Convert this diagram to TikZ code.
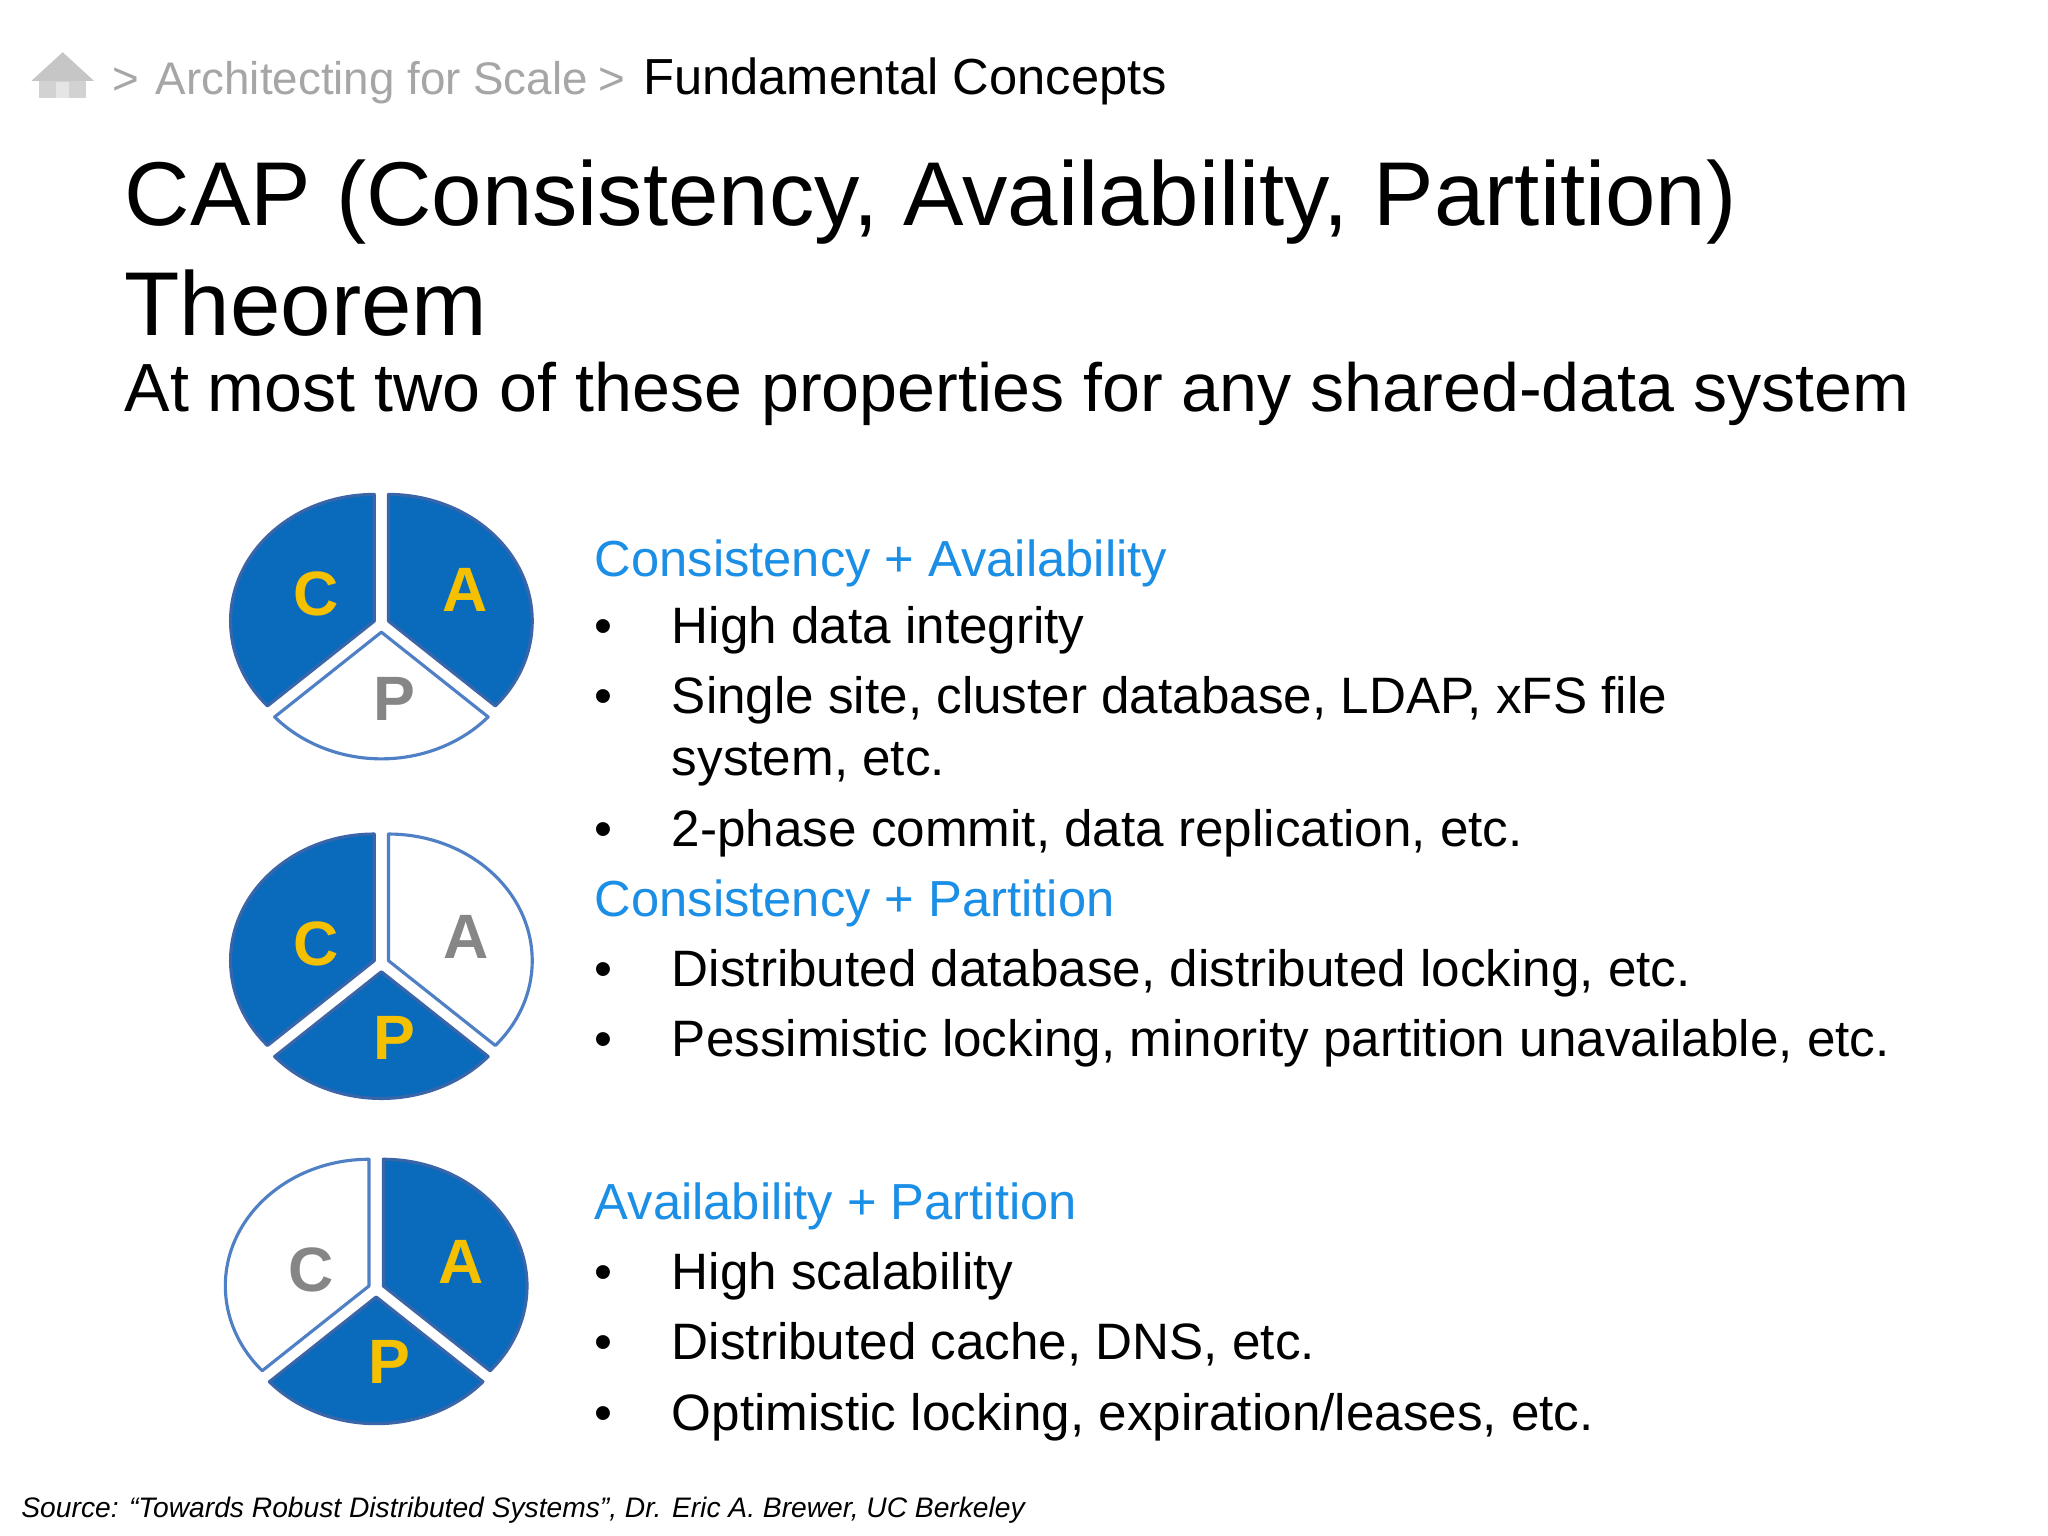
\documentclass[tikz,border=0pt]{standalone}
\usepackage{fontspec}
\setmainfont{Liberation Sans}
\definecolor{pieblue}{HTML}{0A6BBD}
\definecolor{pieedge}{HTML}{3A65A8}
\definecolor{wedge}{HTML}{4F7FC4}
\definecolor{lettery}{HTML}{F5C000}
\definecolor{headblue}{HTML}{1B8EE6}
\definecolor{crumb}{HTML}{A6A6A6}
\tikzset{
  txt/.style={anchor=base west, inner sep=0pt, font=\fontsize{19.6}{24}\selectfont},
  head/.style={txt, text=headblue, font=\fontsize{19.4}{24}\selectfont},
  bul/.style={txt},
  full/.style={fill=pieblue, draw=pieedge, line width=1.2pt, line join=round},
  empty/.style={fill=white, draw=wedge, line width=1.2pt, line join=round},
  letfull/.style={text=lettery, font=\bfseries\fontsize{24}{24}\selectfont, inner sep=0pt},
  letempty/.style={text=gray!95, font=\bfseries\fontsize{24}{24}\selectfont, inner sep=0pt},
}
% center x, center y, start, end, style
\newcommand\capsec[5]{%
  \path[#5] ([shift={({(#3+#4)/2}:6)}]#1,#2) -- ++(#3:55pt and 48.5pt)
     arc[start angle=#3, end angle=#4, x radius=55pt, y radius=48.5pt] -- cycle;}
\begin{document}
\begin{tikzpicture}[x=0.5pt,y=0.5pt]
\useasboundingbox[fill=white] (0,0) rectangle (1568,-1176);
% breadcrumb
\fill[gray!35] (30,-62) -- (30,-75) -- (66,-75) -- (66,-62) -- cycle;
\fill[gray!45] (24,-62) -- (48,-40) -- (72,-62) -- cycle;
\fill[gray!20] (43,-75) rectangle (53,-63);
\node[txt, text=crumb, font=\fontsize{17.5}{20}\selectfont] (bc0) at (86,-72) {>};
\node[txt, text=crumb, font=\fontsize{17.5}{20}\selectfont] (bc1) at (119,-72) {Architecting for Scale};
\node[txt, text=crumb, font=\fontsize{17.5}{20}\selectfont] (bc2) at (458,-72) {>};
\node[txt, font=\fontsize{19.4}{20}\selectfont] (bc3) at (492,-72) {Fundamental Concepts};
% title
\node[txt, font=\fontsize{34.7}{40}\selectfont] (t1) at (95,-173) {CAP (Consistency, Availability, Partition)};
\node[txt, font=\fontsize{34.7}{40}\selectfont] (t2) at (95,-257) {Theorem};
\node[txt, font=\fontsize{26.1}{28}\selectfont] (t3) at (95,-315) {At most two of these properties for any shared-data system};
% pies
\capsec{292}{-478}{90}{222}{full}
\capsec{292}{-478}{-42}{90}{full}
\capsec{292}{-478}{222}{318}{empty}
\node[letfull] (c1) at (242,-455) {C};
\node[letfull] (a1) at (356,-452) {A};
\node[letempty] (p1) at (302,-535) {P};
\capsec{292}{-738}{90}{222}{full}
\capsec{292}{-738}{-42}{90}{empty}
\capsec{292}{-738}{222}{318}{full}
\node[letfull] (c2) at (242,-723) {C};
\node[letempty] (a2) at (357,-717) {A};
\node[letfull] (p2) at (302,-795) {P};
\capsec{288}{-987}{90}{222}{empty}
\capsec{288}{-987}{-42}{90}{full}
\capsec{288}{-987}{222}{318}{full}
\node[letempty] (c3) at (238,-972) {C};
\node[letfull] (a3) at (353,-966) {A};
\node[letfull] (p3) at (298,-1043) {P};
% text
\node[head] (h1) at (455,-441) {Consistency + Availability};
\node[head] (h2) at (455,-702) {Consistency + Partition};
\node[head] (h3) at (455,-934) {Availability + Partition};
\foreach \y/\s in {-493/High data integrity, -546/{Single site, cluster database, LDAP, xFS file}, -648/{2-phase commit, data replication, etc.}, -755/{Distributed database, distributed locking, etc.}, -809/{Pessimistic locking, minority partition unavailable, etc.}, -987/High scalability, -1041/{Distributed cache, DNS, etc.}, -1095/{Optimistic locking, expiration/leases, etc.}}{
  \node[bul] at (455,\y) {•};
  \node[bul] at (514,\y) {\s};
}
\node[bul] (s2) at (514,-594) {system, etc.};
\node[txt, font=\itshape\fontsize{10.8}{12}\selectfont] (src) at (16,-1162) {Source: “Towards Robust Distributed Systems”, Dr. Eric A. Brewer, UC Berkeley};
\end{tikzpicture}
\end{document}
